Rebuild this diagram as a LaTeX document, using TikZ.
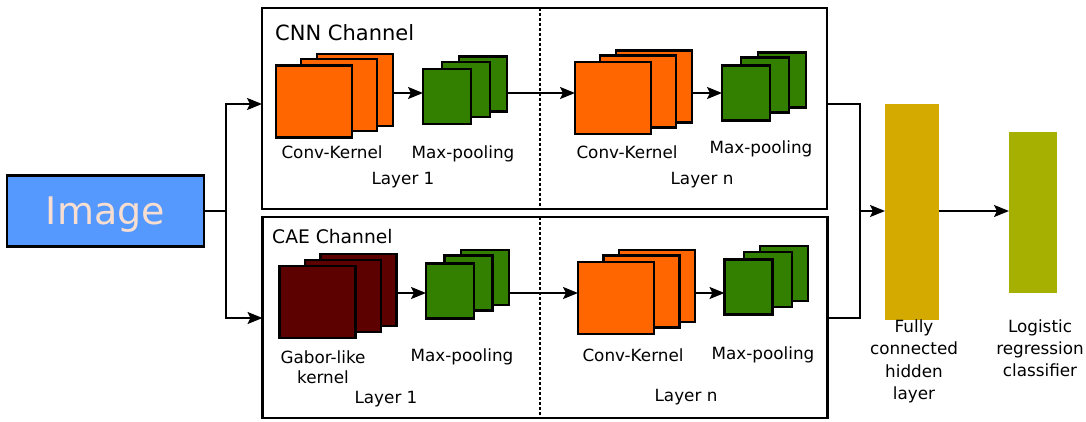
\documentclass[tikz,border=0pt]{standalone}
\usepackage{fontspec}
\setmainfont{DejaVu Sans}
\usetikzlibrary{arrows.meta}
\definecolor{cblue}{RGB}{85,153,255}
\definecolor{ctext}{RGB}{248,222,208}
\definecolor{corange}{RGB}{255,102,0}
\definecolor{cgreen}{RGB}{51,128,0}
\definecolor{cred}{RGB}{92,0,0}
\definecolor{cfc}{RGB}{212,170,0}
\definecolor{clr}{RGB}{166,176,0}
\tikzset{
  sq/.style={draw, line width=2.2pt, inner sep=0pt, outer sep=0pt},
  conv/.style={sq, fill=corange, minimum width=76pt, minimum height=72pt},
  gabor/.style={sq, fill=cred, minimum width=76pt, minimum height=72pt},
  pool/.style={sq, fill=cgreen, minimum width=48pt, minimum height=55pt},
  chan/.style={draw, line width=2.2pt, inner sep=0pt, outer sep=0pt, minimum width=565pt, minimum height=201pt},
  bar/.style={inner sep=0pt, outer sep=0pt},
  lbl/.style={font=\fontsize{16.8}{22.5}\selectfont, inner sep=0pt, anchor=base, align=center},
  conn/.style={line width=2.2pt},
  arr/.style={line width=2.2pt, -{Stealth[length=15pt,width=12pt,inset=3pt]}},
  divider/.style={line width=1.3pt, dash pattern=on 3pt off 2pt},
}
\begin{document}
\begin{tikzpicture}[x=1pt,y=-1pt]
\useasboundingbox (0,0) rectangle (1086,422);

% input
\node[draw, line width=2.2pt, fill=cblue, text=ctext, minimum width=197pt, minimum height=71pt,
      inner sep=0pt, text depth=0pt, font=\fontsize{38}{44}\selectfont] (img) at (105.5,211) {Image};

% channel boxes
\node[chan] (cnn) at (544.5,108.5) {};
\node[chan] (cae) at (545,317.5) {};
\coordinate (dv) at (540,0);
\draw[divider] (cnn.north -| dv) -- (cnn.south -| dv);
\draw[divider] (cae.north -| dv) -- (cae.south -| dv);

\node[font=\fontsize{21}{25}\selectfont, inner sep=0pt, anchor=base west] (cnnt) at (275,41) {CNN Channel};
\node[font=\fontsize{18.7}{22}\selectfont, inner sep=0pt, anchor=base west] (caet) at (272,243) {CAE Channel};

% CNN layer 1
\node[conv] (c1c) at (355,90) {};
\node[conv] (c1b) at (339,95) {};
\node[conv] (c1a) at (314,101.5) {};
\node[pool] (g1c) at (483,84) {};
\node[pool] (g1b) at (466,89.5) {};
\node[pool] (g1a) at (447,96.5) {};
% CNN layer n
\node[conv] (c2c) at (654,86.5) {};
\node[conv] (c2b) at (638,91.5) {};
\node[conv] (c2a) at (613,98) {};
\node[pool] (g2c) at (782,80) {};
\node[pool] (g2b) at (765,85) {};
\node[pool] (g2a) at (746,93) {};
% CAE layer 1
\node[gabor] (k1c) at (358.5,290) {};
\node[gabor] (k1b) at (343,296) {};
\node[gabor] (k1a) at (317.5,302) {};
\node[pool] (h1c) at (485,277.5) {};
\node[pool] (h1b) at (468.5,283) {};
\node[pool] (h1a) at (450,291) {};
% CAE layer n
\node[conv] (k2c) at (657,286) {};
\node[conv] (k2b) at (641.5,291.5) {};
\node[conv] (k2a) at (616,298) {};
\node[pool] (h2c) at (784,273.5) {};
\node[pool] (h2b) at (768,279.5) {};
\node[pool] (h2a) at (748.5,287) {};

% labels
\node[lbl] (l1) at (332,159) {Conv-Kernel};
\node[lbl] (l2) at (463,159) {Max-pooling};
\node[lbl] (l3) at (403,185) {Layer 1};
\node[lbl] (l4) at (627,159) {Conv-Kernel};
\node[lbl] (l5) at (761,154) {Max-pooling};
\node[lbl] (l6) at (702,185) {Layer n};
\node[lbl, font=\fontsize{16.8}{20}\selectfont] (l7) at (323,383) {Gabor-like\\kernel};
\node[lbl] (l8) at (462,361) {Max-pooling};
\node[lbl] (l9) at (386,403) {Layer 1};
\node[lbl] (l10) at (633,361) {Conv-Kernel};
\node[lbl] (l11) at (763,359) {Max-pooling};
\node[lbl] (l12) at (686,401) {Layer n};

% output layers
\node[bar, fill=cfc, minimum width=54pt, minimum height=216pt] (fc) at (912,212) {};
\node[bar, fill=clr, minimum width=48pt, minimum height=161pt] (lr) at (1033,212.5) {};
\node[lbl] (fct) at (914,399.5) {Fully\\connected\\hidden\\layer};
\node[lbl, font=\fontsize{16.8}{22}\selectfont] (lrt) at (1040,376) {Logistic\\regression\\classifier};

% connectors: input split
\coordinate (b1) at (226,104);
\coordinate (b2) at (226,318);
\draw[arr] (img.east) -| (b1) -- (cnn.west |- b1);
\draw[arr] (img.east) -| (b2) -- (cae.west |- b2);

% in-channel arrows
\coordinate (r1) at (0,93);
\coordinate (r2) at (0,293);
\draw[arr] (c1c.east |- r1) -- (g1a.west |- r1);
\draw[arr] (g1c.east |- r1) -- (c2a.west |- r1);
\draw[arr] (c2c.east |- r1) -- (g2a.west |- r1);
\draw[arr] (k1c.east |- r2) -- (h1a.west |- r2);
\draw[arr] (h1c.east |- r2) -- (k2a.west |- r2);
\draw[arr] (k2c.east |- r2) -- (h2a.west |- r2);

% merge
\coordinate (j1) at (860,104);
\coordinate (j2) at (860,318);
\coordinate (m) at (860,211);
\draw[conn] (cnn.east |- j1) -- (j1) -- (j2) -- (cae.east |- j2);
\draw[arr] (m) -- (fc.west |- m);
\draw[arr] (fc.east |- m) -- (lr.west |- m);
\end{tikzpicture}
\end{document}
